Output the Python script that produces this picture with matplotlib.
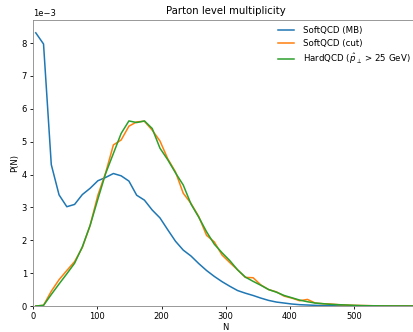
import numpy as np
import matplotlib
matplotlib.use("Agg")
import matplotlib.pyplot as plt

# multiplicity bin positions
n_vals = [4.0, 16.1, 28.2, 40.3, 52.4, 64.5, 76.6, 88.7, 100.8, 112.9,
          125.0, 137.1, 149.2, 161.3, 173.4, 185.5, 197.6, 209.7, 221.8, 233.9,
          246.0, 258.1, 270.2, 282.3, 294.4, 306.5, 318.6, 330.7, 342.8, 354.9,
          367.0, 379.1, 391.2, 403.3, 415.4, 427.5, 439.6, 451.7, 463.8, 475.9,
          488.0, 500.1, 512.2, 524.3, 536.4, 548.5, 560.6, 572.7, 584.8, 596.9]

# P(N) in units of 1e-3
soft_mb = [8.31, 7.97, 4.30, 3.38, 3.02, 3.09, 3.39, 3.58, 3.81, 3.91,
           4.03, 3.96, 3.80, 3.37, 3.22, 2.92, 2.68, 2.32, 1.97, 1.70,
           1.52, 1.29, 1.08, 0.90, 0.74, 0.60, 0.47, 0.39, 0.32, 0.24,
           0.17, 0.12, 0.09, 0.06, 0.04, 0.03, 0.02, 0.015, 0.01, 0.008,
           0.005, 0.004, 0.003, 0.002, 0.001, 0.001, 0.0, 0.0, 0.0, 0.0]

soft_cut = [0.0, 0.02, 0.45, 0.80, 1.08, 1.35, 1.78, 2.45, 3.37, 4.05,
            4.90, 5.05, 5.47, 5.60, 5.62, 5.35, 5.02, 4.48, 4.08, 3.43,
            3.12, 2.72, 2.15, 1.95, 1.55, 1.32, 1.10, 0.87, 0.86, 0.64,
            0.50, 0.43, 0.30, 0.24, 0.16, 0.20, 0.09, 0.07, 0.06, 0.04,
            0.03, 0.02, 0.015, 0.01, 0.005, 0.003, 0.002, 0.001, 0.0, 0.0]

hard_qcd = [0.0, 0.02, 0.35, 0.67, 0.98, 1.30, 1.80, 2.45, 3.25, 4.03,
            4.64, 5.25, 5.63, 5.58, 5.63, 5.40, 4.80, 4.45, 4.05, 3.68,
            3.10, 2.70, 2.26, 1.88, 1.62, 1.38, 1.10, 0.88, 0.75, 0.63,
            0.50, 0.42, 0.32, 0.25, 0.18, 0.13, 0.09, 0.07, 0.05, 0.04,
            0.03, 0.02, 0.012, 0.008, 0.005, 0.003, 0.002, 0.001, 0.0, 0.0]

labels = ["SoftQCD (MB)", "SoftQCD (cut)", r"HardQCD ($\hat{p}_\perp$ > 25 GeV)"]
x_ticks = [0, 100, 200, 300, 400, 500]


def main():
    fig = plt.figure(figsize=(4.14, 3.32), dpi=100)
    ax = fig.add_axes([33.2 / 414, 26 / 332, 600 * 0.6415 / 414, 286 / 332])

    scale = 1e-3
    for vals, lab in zip([soft_mb, soft_cut, hard_qcd], labels):
        ax.plot(n_vals, np.array(vals) * scale, lw=1.1, label=lab)

    ax.set_xlim(0, 600)
    ax.set_ylim(0, 8.7e-3)
    ax.set_xticks(x_ticks)
    ax.ticklabel_format(axis="y", style="sci", scilimits=(-3, -3))
    ax.set_title("Parton level multiplicity", fontsize=7.3, pad=4)
    ax.set_xlabel("N", fontsize=6, labelpad=1)
    ax.set_ylabel("P(N)", fontsize=6, labelpad=2)
    ax.tick_params(labelsize=6, length=2.5, width=0.6, pad=2)
    ax.yaxis.get_offset_text().set_fontsize(6)
    for sp in ax.spines.values():
        sp.set_linewidth(0.6)
        sp.set_color("#888888")

    ax.legend(fontsize=6.2, frameon=False, loc="upper right",
              bbox_to_anchor=(414 / 414, 1 - 23 / 332), bbox_transform=fig.transFigure,
              borderaxespad=0, handlelength=1.9, handletextpad=1.0, labelspacing=0.4)

    fig.savefig("out.png", dpi=100)


if __name__ == '__main__':
    main()
